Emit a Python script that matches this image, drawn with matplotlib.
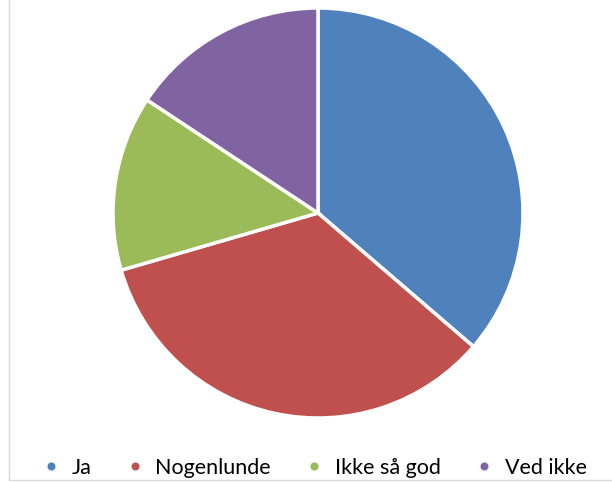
import matplotlib.pyplot as plt
from matplotlib.lines import Line2D
from matplotlib.patches import Rectangle

labels = ['Ja', 'Nogenlunde', 'Ikke så god', 'Ved ikke']
values = [36.3, 34.2, 13.8, 15.7]
colors = ['#4F81BD', '#C0504D', '#9BBB59', '#8064A2']

fig = plt.figure(figsize=(6.12, 4.82), dpi=100)

# chart frame (only left and bottom visible in the crop)
fig.patches.append(Rectangle((9 / 612, 2 / 482), 1.0, 1.0, transform=fig.transFigure,
                             fill=False, edgecolor='#D9D9D9', linewidth=1))

ax = fig.add_axes([0.1846, 0.1328, 0.67, 0.8506])
ax.pie(values, colors=colors, startangle=90, counterclock=False, radius=1,
       wedgeprops=dict(edgecolor='white', linewidth=2.5))
ax.set_xlim(-1.0, 1.0)
ax.set_ylim(-1.0, 1.0)
ax.set_aspect('equal')

handles = [Line2D([], [], marker='o', linestyle='none', markersize=6.5,
                  markerfacecolor=c, markeredgecolor='#EEF0F8', markeredgewidth=0.8)
           for c in colors]
leg = fig.legend(handles, labels, loc='center', bbox_to_anchor=(0.512, 1 - 468 / 482),
                 ncol=4, frameon=False, handletextpad=0.47,
                 columnspacing=1.5, handlelength=1.0, borderpad=0,
                 prop={'family': 'Lato', 'size': 15.5})

fig.savefig('out.png', dpi=100)
